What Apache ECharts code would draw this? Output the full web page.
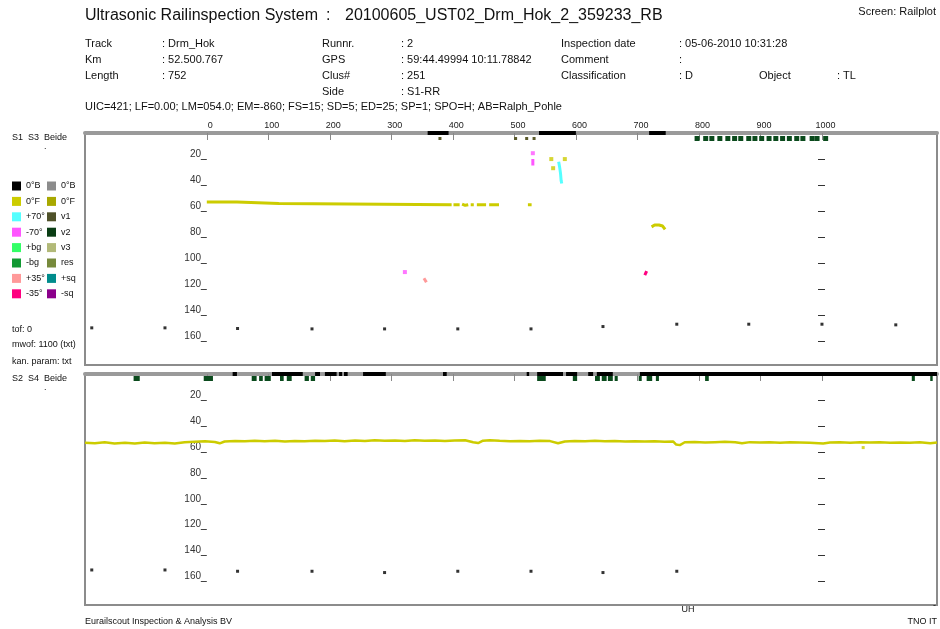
<!DOCTYPE html>
<html><head><meta charset="utf-8">
<script src="https://cdn.jsdelivr.net/npm/echarts@6/dist/echarts.min.js"></script>
<style>html,body{margin:0;padding:0;background:#fff}#c{width:940px;height:629px}</style>
</head><body><div id="c"></div>
<script>
// ---------- tick labels ----------
const xTickValues = [0, 100, 200, 300, 400, 500, 600, 700, 800, 900, 1000];
const yTickValues = [20, 40, 60, 80, 100, 120, 140, 160];

// ---------- S1 S3 panel (top) ----------
const topF0Segments = [
  [[0, 53], [49, 53], [49, 54], [117, 54], [117, 55], [398, 55]],
  [[401, 55], [411, 55]],
  [[415, 54.5], [420, 55.5], [425, 55]],
  [[429, 55], [434, 55]],
  [[439, 55], [454, 55]],
  [[459, 55], [475, 55]],
  [[522, 55], [528, 55]]
];
const topF0Dots = [[560, 20], [582, 20], [563, 27]];
const topF0Arc = [[723, 72], [728, 70.6], [735, 70.6], [741, 71.4], [745, 74]];
const topNeg70Trace = [[530, 20], [530, 25]];
const topNeg70Dots = [[530, 15.5], [322, 106.7]];
const topPos70Trace = [[572, 22], [573.5, 26], [575, 31], [576, 36.5], [577, 38.7]];
const topPos35Trace = [[353, 111.5], [357, 114.5]];
const topNeg35Trace = [[712, 109], [715, 106]];
const topBDots = [[-187, 149.5], [-68, 149.5], [50, 150], [171, 150.3], [289, 150.3], [408, 150.3],
  [527, 150.3], [644, 148.5], [764, 146.7], [881, 146.7], [1000, 146.7], [1120, 147.2]];
const topStripB = [[359, 393], [540, 600], [719, 746]];
const topStripV1 = [379, 502, 520, 532];
const topStripV2 = [797, 811, 821, 834, 847, 858, 868, 881, 891, 902, 914, 925, 936, 947, 959, 969, 984, 992, 1006];

// ---------- S2 S4 panel (bottom) ----------
const bottomF0Line = [
  [-198, 52.9], [-182, 53.3], [-166, 52.6], [-150, 53.5], [-133, 53.0], [-117, 53.6], [-101, 52.8], [-85, 53.4],
  [-68, 52.9], [-52, 53.5], [-36, 52.6], [-20, 52.2], [-3, 51.8], [13, 52.4], [21, 53.4], [29, 52.0], [46, 51.6],
  [62, 51.9], [78, 51.4], [94, 51.8], [111, 51.5], [127, 52.0], [143, 51.6], [159, 51.9], [176, 51.4], [192, 51.7],
  [208, 51.3], [224, 51.8], [241, 51.2], [257, 51.6], [273, 51.1], [289, 51.5], [306, 51.2], [322, 51.6], [338, 51.0],
  [354, 51.4], [371, 51.2], [387, 51.6], [403, 51.3], [420, 51.1], [433, 52.6], [441, 53.2], [449, 51.4], [460, 51.0],
  [476, 51.5], [493, 51.9], [509, 51.6], [525, 51.8], [541, 51.4], [558, 51.7], [571, 53.4], [582, 52.0], [598, 51.6],
  [615, 51.9], [631, 51.5], [647, 51.8], [663, 51.6], [680, 52.0], [696, 51.8], [712, 52.1], [728, 51.9], [744, 52.2],
  [758, 52.0], [763, 54.4], [769, 54.8], [777, 52.6], [793, 52.4], [810, 52.7], [826, 52.5], [842, 52.3], [859, 52.6],
  [870, 53.4], [883, 52.5], [899, 52.8], [915, 52.6], [932, 52.9], [948, 52.5], [964, 52.7], [980, 52.9], [1002, 53.5],
  [1013, 52.8], [1029, 52.5], [1046, 52.9], [1062, 52.6], [1078, 52.8], [1094, 52.5], [1111, 52.9], [1127, 52.7],
  [1143, 53.0], [1159, 52.6], [1176, 53.4], [1187, 52.8]
];
const bottomF0Dots = [[1067, 56.7]];
const bottomBDots = [[-187, 151], [-68, 151], [50, 152], [171, 152], [289, 153], [408, 152], [527, 152], [644, 153], [764, 152]];
const bottomStripB = [[42, 49], [106, 156], [176, 184], [192, 211], [215, 220], [223, 229], [254, 291], [384, 390],
  [520, 524], [537, 579], [584, 602], [620, 628], [634, 660], [704, 1187]];
const bottomStripV2 = [[-119, -109], [-5, 10], [73, 81], [85, 91], [94, 104], [119, 125], [130, 138], [159, 166],
  [169, 176], [537, 551], [595, 602], [631, 639], [642, 650], [652, 660], [663, 668], [702, 707], [715, 724],
  [730, 735], [810, 816], [1146, 1151], [1176, 1180]];

// ---------- legend & header text ----------
const legendLeft = [['0°B', '#000000'], ['0°F', '#cccc00'], ['+70°', '#55ffff'], ['-70°', '#ff55ff'],
  ['+bg', '#33ff66'], ['-bg', '#119933'], ['+35°', '#ff9999'], ['-35°', '#ff0080']];
const legendRight = [['0°B', '#8c8c8c'], ['0°F', '#a8a800'], ['v1', '#4f5129'], ['v2', '#0a3d14'],
  ['v3', '#b2b978'], ['res', '#778a3c'], ['+sq', '#008c8c'], ['-sq', '#8b008b']];
const infoCol1 = [['Track', ': Drm_Hok'], ['Km', ': 52.500.767'], ['Length', ': 752']];
const infoCol2 = [['Runnr.', ': 2'], ['GPS', ': 59:44.49994 10:11.78842'], ['Clus#', ': 251'], ['Side', ': S1-RR']];
const infoCol3 = [['Inspection date', ': 05-06-2010 10:31:28'], ['Comment', ':'], ['Classification', ': D']];

// ---------- build ----------
const FONT = "'Liberation Sans', Arial, sans-serif";
const YEL = '#cccc00';
function T(x, y, text, size, align, color) {
  return { type: 'text', x: x, y: y, silent: true,
    style: { text: text, fontSize: size, fontFamily: FONT, fill: color || '#111',
      align: align || 'left', verticalAlign: 'middle', textAlign: align || 'left', textVerticalAlign: 'middle' } };
}
const g = [];
g.push(T(85, 16, 'Ultrasonic Railinspection System', 16));
g.push(T(326, 16, ':', 16));
g.push(T(345, 16, '20100605_UST02_Drm_Hok_2_359233_RB', 16));
g.push(T(936, 12, 'Screen: Railplot', 11, 'right'));
const rowY = [44, 60, 76, 92];
infoCol1.forEach((r, i) => { g.push(T(85, rowY[i], r[0], 11)); g.push(T(162, rowY[i], r[1], 11)); });
infoCol2.forEach((r, i) => { g.push(T(322, rowY[i], r[0], 11)); g.push(T(401, rowY[i], r[1], 11)); });
infoCol3.forEach((r, i) => { g.push(T(561, rowY[i], r[0], 11)); g.push(T(679, rowY[i], r[1], 11)); });
g.push(T(759, 76, 'Object', 11)); g.push(T(837, 76, ': TL', 11));
g.push(T(85, 107, 'UIC=421; LF=0.00; LM=054.0; EM=-860; FS=15; SD=5; ED=25; SP=1; SPO=H; AB=Ralph_Pohle', 11));
g.push(T(12, 138, 'S1  S3  Beide', 9));
g.push(T(44, 147, '.', 9));
const legY0 = 186, legDy = 15.4;
legendLeft.forEach((it, i) => {
  const y = legY0 + i * legDy;
  g.push({ type: 'rect', shape: { x: 12, y: y - 4.5, width: 9, height: 9 }, style: { fill: it[1] }, silent: true });
  g.push(T(26, y, it[0], 9));
});
legendRight.forEach((it, i) => {
  const y = legY0 + i * legDy;
  g.push({ type: 'rect', shape: { x: 47, y: y - 4.5, width: 9, height: 9 }, style: { fill: it[1] }, silent: true });
  g.push(T(61, y, it[0], 9));
});
g.push(T(12, 330, 'tof: 0', 9));
g.push(T(12, 345, 'mwof: 1100 (txt)', 9));
g.push(T(12, 362, 'kan. param: txt', 9));
g.push(T(12, 379, 'S2  S4  Beide', 9));
g.push(T(44, 388, '.', 9));
g.push(T(85, 622, 'Eurailscout Inspection & Analysis BV', 9));
g.push(T(937, 622, 'TNO IT', 9, 'right'));
g.push(T(688, 610, 'UH', 9, 'center'));
g.push(T(936, 606, '-', 9, 'right'));

const grids = [
  { left: 85, top: 133, width: 852, height: 232 },
  { left: 85, top: 374, width: 852, height: 231 }
];
const gridOpts = grids.map(gr => Object.assign({ show: true, borderColor: '#8c8c8c', borderWidth: 2, backgroundColor: '#fff' }, gr));

function xAx(i, labels) {
  return { type: 'value', gridIndex: i, min: -198, max: 1187, position: 'top',
    axisLine: { show: true, lineStyle: { color: '#9a9a9a', width: 4 } },
    axisTick: { show: true, inside: true, length: 7, customValues: xTickValues, lineStyle: { color: '#888', width: 1 } },
    axisLabel: { show: labels, customValues: xTickValues, margin: 3, fontSize: 9, fontFamily: FONT, color: '#222',
      padding: [0, 0, 0, 7], formatter: v => String(v) },
    splitLine: { show: false } };
}
function yLeft(i) {
  return { type: 'value', gridIndex: i, min: 0, max: 178, inverse: true, position: 'left', offset: -119,
    axisLine: { show: false },
    axisTick: { show: true, length: 6, customValues: yTickValues, lineStyle: { color: '#444', width: 1 } },
    axisLabel: { show: true, customValues: yTickValues, margin: 3, fontSize: 10, fontFamily: FONT, color: '#333', verticalAlign: 'bottom' },
    splitLine: { show: false } };
}
function yRight(i) {
  return { type: 'value', gridIndex: i, min: 0, max: 178, inverse: true, position: 'right', offset: -119,
    axisLine: { show: false },
    axisTick: { show: true, length: 7, customValues: yTickValues, lineStyle: { color: '#333', width: 1 } },
    axisLabel: { show: false }, splitLine: { show: false } };
}

function strip(xi, yi, data, yOff, h, fixedW, color) {
  return { type: 'custom', xAxisIndex: xi, yAxisIndex: yi, clip: false, z: 5, silent: true,
    encode: { x: [0, 1] },
    data: data,
    renderItem: function (params, api) {
      const cs = params.coordSys;
      const a = api.coord([api.value(0), 0])[0];
      let x0, w;
      if (fixedW) { x0 = a - fixedW / 2; w = fixedW; }
      else { const b = api.coord([api.value(1), 0])[0]; x0 = a; w = Math.max(b - a, 1.5); }
      return { type: 'rect', shape: { x: x0, y: cs.y + yOff, width: w, height: h }, style: { fill: color } };
    } };
}
function line(xi, yi, data, color, w) {
  return { type: 'line', xAxisIndex: xi, yAxisIndex: yi, data: data, showSymbol: false, symbol: 'none',
    lineStyle: { color: color, width: w || 3, cap: 'butt' }, silent: true, z: 3 };
}
function dots(xi, yi, data, color, s) {
  return { type: 'scatter', xAxisIndex: xi, yAxisIndex: yi, data: data, symbol: 'rect', symbolSize: s || 3,
    itemStyle: { color: color }, silent: true, z: 3 };
}

const series = [];
topF0Segments.forEach(seg => series.push(line(0, 0, seg, YEL, 3)));
series.push(dots(0, 0, topF0Dots, YEL, 4));
series.push(line(0, 0, topF0Arc, YEL, 3));
series.push(line(0, 0, topNeg70Trace, '#ff55ff', 3));
series.push(dots(0, 0, topNeg70Dots, '#ff55ff', 4));
series.push(line(0, 0, topPos70Trace, '#55ffff', 3));
series.push(line(0, 0, topPos35Trace, '#ff9999', 3));
series.push(line(0, 0, topNeg35Trace, '#ff0080', 3));
series.push(dots(0, 0, topBDots, '#000', 3));
series.push(strip(0, 0, topStripB, -2, 4, 0, '#000'));
series.push(strip(0, 0, topStripV1.map(v => [v, v]), 4, 3, 3, '#5a5a2a'));
series.push(strip(0, 0, topStripV2.map(v => [v, v]), 3, 5, 5, '#0a4a1c'));

series.push(line(1, 2, bottomF0Line, YEL, 2.5));
series.push(dots(1, 2, bottomF0Dots, YEL, 3));
series.push(dots(1, 2, bottomBDots, '#000', 3));
series.push(strip(1, 2, bottomStripB, -2, 4, 0, '#000'));
series.push(strip(1, 2, bottomStripV2, 2, 5, 0, '#0a4a1c'));

const chart = echarts.init(document.getElementById('c'), null, { renderer: 'canvas' });
chart.setOption({
  animation: false,
  backgroundColor: '#fff',
  textStyle: { fontFamily: FONT },
  grid: gridOpts,
  xAxis: [xAx(0, true), xAx(1, false)],
  yAxis: [yLeft(0), yRight(0), yLeft(1), yRight(1)],
  graphic: { elements: g },
  series: series
});
</script>
</body></html>
